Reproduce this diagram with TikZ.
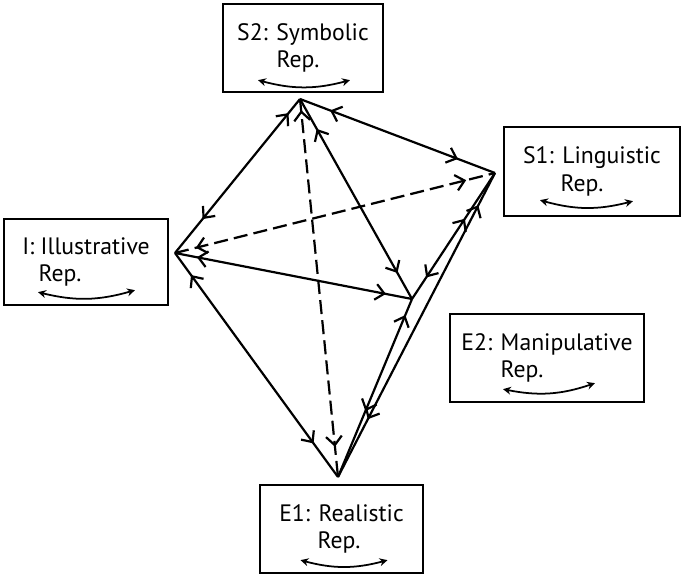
\documentclass[tikz,border=0pt]{standalone}
\usepackage{fontspec}
\setmainfont{PT Sans}
\usetikzlibrary{arrows.meta,decorations.markings}

\tikzset{
  >={Straight Barb[length=5pt,width=9pt]},
  repbox/.style={ draw, line width=1.3pt, align=center, minimum height=1.76cm, inner sep=2pt, font=\fontsize{13.5}{15.6}\selectfont },
  repcurve/.style={ line width=1pt, {Stealth[length=4.5pt,width=4.5pt]}-{Stealth[length=4.5pt,width=4.5pt]} },
  link/.style 2 args={ line width=1.25pt, postaction={decorate}, decoration={ markings, mark=at position #1 with {\arrow{<}}, mark=at position #2 with {\arrow{>}} } },
  hidden/.style={ dash pattern=on 8pt off 3.5pt }
}

\begin{document}
\begin{tikzpicture}
  \useasboundingbox (0,0) rectangle (13.7,11.54);
  \coordinate (s2v) at (6.00,9.56);
  \coordinate (s1v) at (9.90,8.08);
  \coordinate (iv) at (3.50,6.48);
  \coordinate (e2v) at (8.24,5.56);
  \coordinate (e1v) at (6.76,2.00);
  \node [ repbox, minimum width=3.2cm ] (s2) at (6.06,10.58) {S2: Symbolic\\Rep.\hspace*{0.2cm}};
  \node [ repbox, minimum width=3.52cm, minimum height=1.78cm ] (s1) at (11.84,8.11) {S1: Linguistic\\Rep.\hspace*{0.4cm}};
  \node [ repbox, minimum width=3.28cm, minimum height=1.72cm ] (il) at (1.72,6.30) {I: Illustrative\\Rep.\hspace*{1.04cm}};
  \node [ repbox, minimum width=3.88cm ] (e2) at (10.94,4.38) {E2: Manipulative\\Rep.\hspace*{1.0cm}};
  \node [ repbox, minimum width=3.26cm ] (e1) at (6.83,0.96) {E1: Realistic\\Rep.\hspace*{0.1cm}};
  \draw [ repcurve ] ([shift={(-0.9,0.26)}]s2.south) to [ bend right=15 ] ([shift={(0.94,0.26)}]s2.south);
  \draw [ repcurve ] ([shift={(-1.04,0.34)}]s1.south) to [ bend right=15 ] ([shift={(0.82,0.32)}]s1.south);
  \draw [ repcurve ] ([shift={(-0.96,0.28)}]il.south) to [ bend right=15 ] ([shift={(0.98,0.32)}]il.south);
  \draw [ repcurve ] ([shift={(-0.88,0.28)}]e2.south) to [ bend right=15 ] ([shift={(0.96,0.4)}]e2.south);
  \draw [ repcurve ] ([shift={(-0.82,0.28)}]e1.south) to [ bend right=15 ] ([shift={(0.92,0.28)}]e1.south);
  \draw [ link={0.15}{0.78} ] (s2v) -- (iv);
  \draw [ link={0.21}{0.81} ] (s2v) -- (s1v);
  \draw [ link={0.2}{0.87} ] (s2v) -- (e2v);
  \draw [ link={0.06}{0.92}, hidden ] (s2v) -- (e1v);
  \draw [ link={0.1}{0.91}, hidden ] (iv) -- (s1v);
  \draw [ link={0.14}{0.89} ] (iv) -- (e2v);
  \draw [ link={0.14}{0.85} ] (iv) -- (e1v);
  \draw [ link={0.44}{0.83} ] (s1v) -- (e2v);
  \draw [ link={0.14}{0.81} ] (s1v) -- (e1v);
  \draw [ link={0.15}{0.63} ] (e2v) -- (e1v);
\end{tikzpicture}
\end{document}
